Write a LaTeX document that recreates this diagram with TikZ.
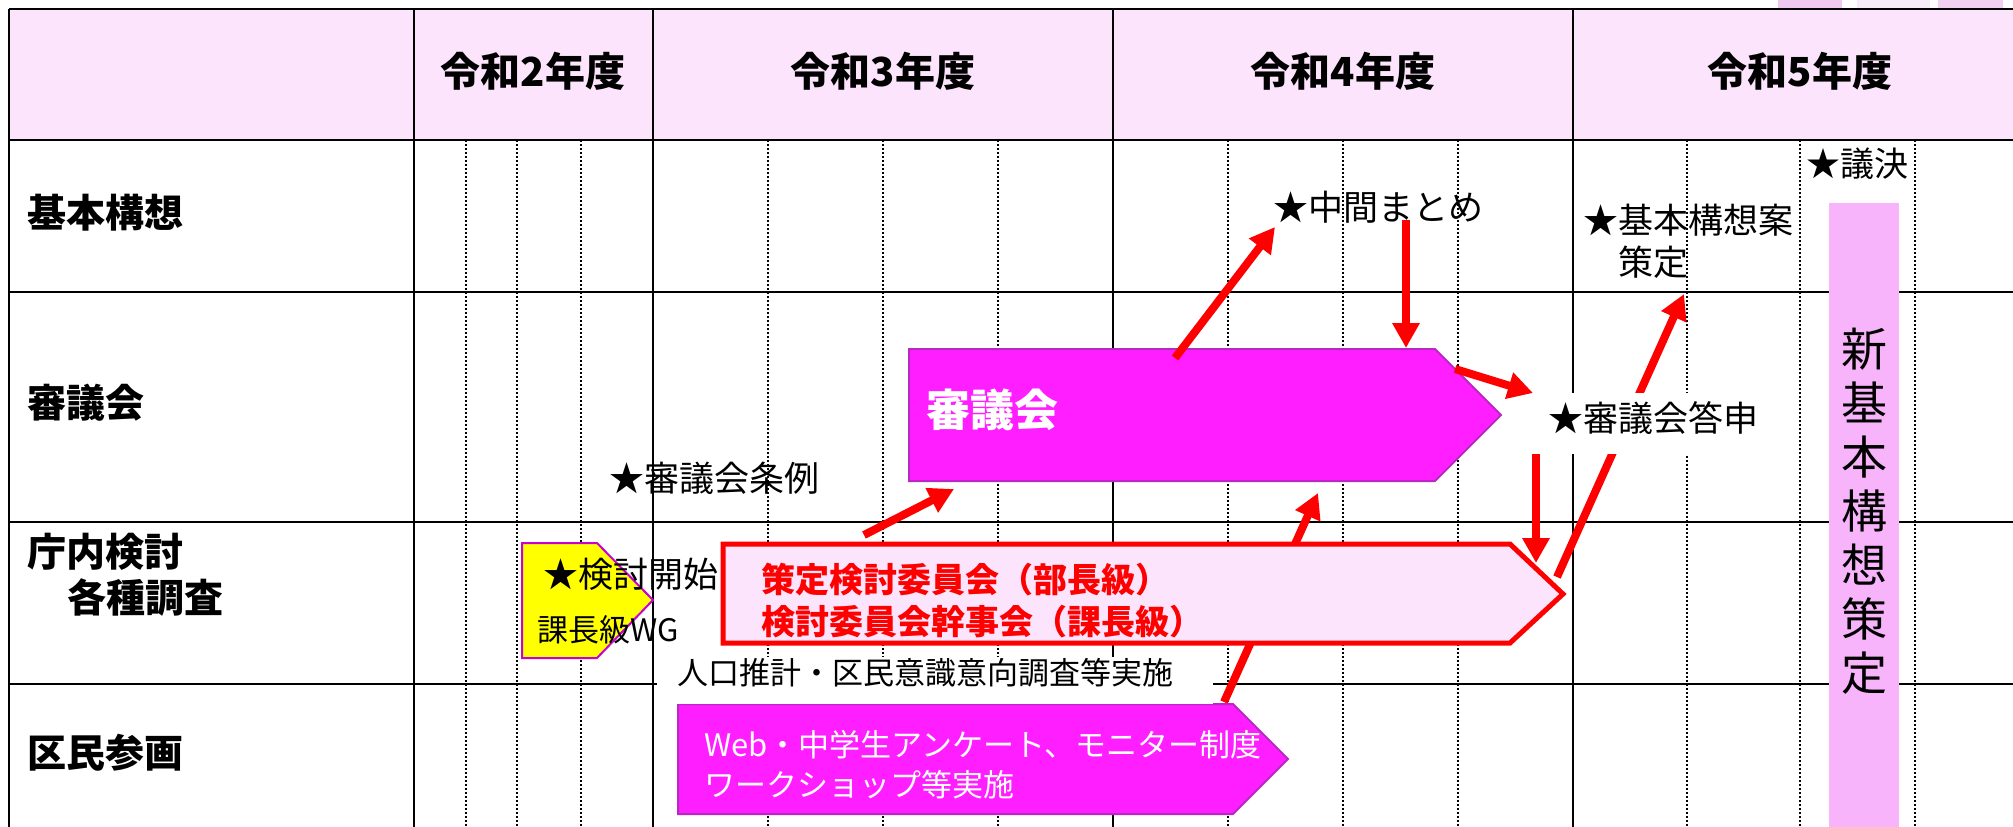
\documentclass[tikz,border=0pt]{standalone}
\usepackage{fontspec}
\setmainfont{Noto Sans CJK JP}
\usetikzlibrary{arrows.meta}
\definecolor{hdr}{RGB}{252,228,252}
\definecolor{mag}{RGB}{255,30,255}
\definecolor{magb}{RGB}{185,40,195}
\definecolor{ylw}{RGB}{255,255,0}
\definecolor{ylwb}{RGB}{200,0,210}
\definecolor{palepink}{RGB}{252,228,252}
\definecolor{barpink}{RGB}{247,180,250}
\definecolor{redc}{RGB}{255,0,0}
\definecolor{art1}{RGB}{240,200,240}
\definecolor{art2}{RGB}{248,236,248}
\definecolor{art3}{RGB}{242,208,242}
\tikzset{
  gridline/.style={line width=2pt, black},
  dots/.style={line width=2pt, black, dash pattern=on 2pt off 2pt},
  redarrow/.style={draw=redc, line width=8pt, -{Triangle[width=26pt,length=25pt]}},
  hdrtext/.style={font=\fontsize{40}{46}\selectfont\bfseries, inner sep=0pt},
  rowlabel/.style={font=\fontsize{39}{46}\selectfont\bfseries, anchor=west, inner sep=0pt, align=left},
  note/.style={font=\fontsize{35}{42}\selectfont, anchor=west, inner sep=0pt, align=left},
  magshape/.style={fill=mag, draw=magb, line width=2pt},
}
\begin{document}
\begin{tikzpicture}[x=1pt,y=-1pt]
\useasboundingbox (0,0) rectangle (2013,827);
\clip (0,0) rectangle (2013,827);
% faint fragments above the table
\fill[art1] (1778,0) rectangle (1842,8);
\fill[art2] (1857,0) rectangle (1930,8);
\fill[art3] (1938,0) rectangle (2003,8);
% header
\fill[hdr] (9,9) rectangle (2013,140);
% quarter lines
\foreach \x in {466,517,581,768,883,998,1228,1343,1458,1687,1800,1915}
  \draw[dots] (\x,140) -- (\x,827);
% grid
\foreach \y in {9,140,292,522,684} \draw[gridline] (9,\y) -- (2013,\y);
\foreach \x in {9,414,653,1113,1573} \draw[gridline] (\x,9) -- (\x,827);
% header texts
\node[hdrtext] (h2) at (533,71) {令和2年度};
\node[hdrtext] (h3) at (883,71) {令和3年度};
\node[hdrtext] (h4) at (1343,71) {令和4年度};
\node[hdrtext] (h5) at (1800,71) {令和5年度};
% row labels
\node[rowlabel] (r1) at (27,213) {基本構想};
\node[rowlabel] (r2) at (27,403) {審議会};
\node[rowlabel] (r3) at (27,575) {庁内検討\\\hspace*{40pt}各種調査};
\node[rowlabel] (r4) at (27,753) {区民参画};
% vertical bar
\fill[barpink] (1829,203) rectangle (1899,827);
\node[font=\fontsize{46}{54}\selectfont, align=center, inner sep=0pt] (bar) at (1864,511) {新\\基\\本\\構\\想\\策\\定};
% coordinates for connectors
\coordinate (a0) at (864,535);  \coordinate (a1) at (954,489);
\coordinate (b0) at (1175,358); \coordinate (b1) at (1275,227);
\coordinate (c0) at (1406,220); \coordinate (c1) at (1406,348);
\coordinate (d0) at (1455,369); \coordinate (d1) at (1533,393);
\coordinate (e0) at (1536,454); \coordinate (e1) at (1536,563);
\coordinate (f0) at (1557,577); \coordinate (f1) at (1684,294);
\coordinate (g0) at (1224,702); \coordinate (g1) at (1318,493);
% connectors running behind shapes
\draw[redarrow] (g0) -- (g1);
\draw[redarrow] (f0) -- (f1);
% shapes
\path[magshape] (909,349) -- (1435,349) -- (1501,415) -- (1435,481) -- (909,481) -- cycle;
\node[anchor=west, inner sep=0pt, text=white, font=\fontsize{44}{50}\selectfont\bfseries] (shingikai) at (926,410) {審議会};
\path[fill=ylw, draw=ylwb, line width=2pt] (522,543) -- (597,543) -- (653,600) -- (597,658) -- (522,658) -- cycle;
\path[fill=palepink, draw=redc, line width=5pt] (723,544) -- (1510,544) -- (1563,594) -- (1510,643) -- (723,643) -- cycle;
\node[anchor=west, inner sep=0pt, align=left, text=redc, font=\fontsize{34}{42}\selectfont\bfseries] (sakutei) at (761,601) {策定検討委員会（部長級）\\検討委員会幹事会（課長級）};
\path[magshape] (678,704) -- (1233,704) -- (1288,759) -- (1233,814) -- (678,814) -- cycle;
\node[anchor=west, inner sep=0pt, align=left, text=white, font=\fontsize{31}{40}\selectfont] (web) at (704,765) {Web・中学生アンケート、モニター制度\\ワークショップ等実施};
\node[note] (kaishi) at (543,574) {★検討開始};
\node[note, font=\fontsize{31}{38}\selectfont] (wg) at (537,630) {課長級WG};
% labels on white ground
\fill[white] (657,657) rectangle (1213,704);
\node[note, font=\fontsize{31}{38}\selectfont] (jinko) at (677,673) {人口推計・区民意識意向調査等実施};
\fill[white] (1533,393) rectangle (1775,454);
\node[note] (toushin) at (1548,418) {★審議会答申};
% other labels
\node[note] (chukan) at (1273,207) {★中間まとめ};
\node[note, font=\fontsize{34}{40}\selectfont] (giketsu) at (1806,164) {★議決};
\node[note] (kihonan) at (1583,241) {★基本構想案\\　策定};
\node[note] (jourei) at (609,478) {★審議会条例};
% connectors
\draw[redarrow] (a0) -- (a1);
\draw[redarrow] (b0) -- (b1);
\draw[redarrow] (c0) -- (c1);
\draw[redarrow] (d0) -- (d1);
\draw[redarrow] (e0) -- (e1);
\end{tikzpicture}
\end{document}
